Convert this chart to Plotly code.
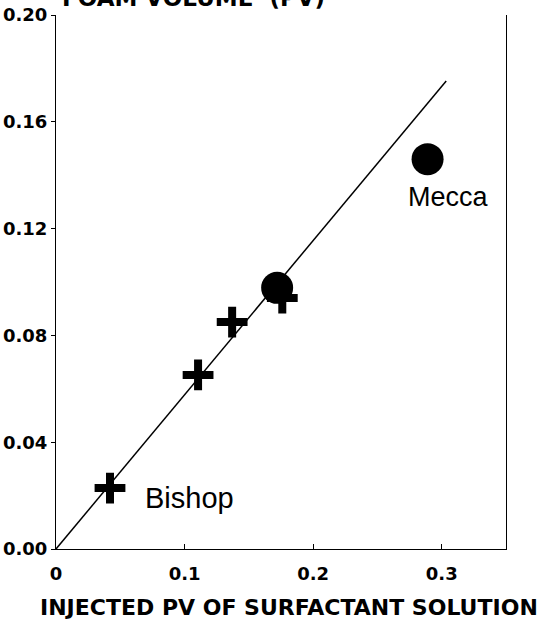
import plotly.graph_objects as go

# Data
bishop_x = [0.042, 0.1105, 0.137, 0.176]
bishop_y = [0.0228, 0.0652, 0.085, 0.094]
mecca_x = [0.172, 0.289]
mecca_y = [0.0978, 0.146]
fit_x = [0.0, 0.3035]
fit_y = [0.0, 0.1753]
x_ticks = [0, 0.1, 0.2, 0.3]
x_tick_labels = ["0", "0.1", "0.2", "0.3"]
y_ticks = [0.00, 0.04, 0.08, 0.12, 0.16, 0.20]
y_tick_labels = ["0.00", "0.04", "0.08", "0.12", "0.16", "0.20"]

LAB = "Liberation Sans, Arial"
BOLD = "DejaVu Sans, Arial"

fig = go.Figure()
fig.add_trace(go.Scatter(x=fit_x, y=fit_y, mode="lines",
                         line=dict(color="black", width=1.5), showlegend=False))
fig.add_trace(go.Scatter(x=mecca_x, y=mecca_y, mode="markers",
                         marker=dict(symbol="circle", size=32, color="black"),
                         showlegend=False))
fig.add_trace(go.Scatter(x=bishop_x, y=bishop_y, mode="markers",
                         marker=dict(symbol="cross-thin", size=22,
                                     line=dict(color="black", width=8)),
                         showlegend=False))

fig.add_annotation(x=bishop_x[0], y=bishop_y[0], text="Bishop", showarrow=False,
                   xanchor="left", yanchor="middle", xshift=33, yshift=-10,
                   font=dict(family=LAB, size=29, color="black"))
fig.add_annotation(x=mecca_x[1], y=mecca_y[1], text="Mecca", showarrow=False,
                   xanchor="center", yanchor="middle", xshift=21, yshift=-38,
                   font=dict(family=LAB, size=27, color="black"))
fig.add_annotation(xref="paper", yref="paper", x=0.0, y=1.0, text="<b>FOAM VOLUME  (PV)</b>",
                   showarrow=False, xanchor="left", yanchor="bottom", yshift=2, xshift=4,
                   font=dict(family=BOLD, size=23, color="black"))
fig.add_annotation(xref="paper", yref="paper", x=0.5, y=0.0,
                   text="<b>INJECTED PV OF SURFACTANT SOLUTION</b>",
                   showarrow=False, xanchor="center", yanchor="middle", yshift=-58, xshift=8,
                   font=dict(family=BOLD, size=22, color="black"))

fig.update_layout(
    width=543, height=625,
    margin=dict(l=56, r=37, t=15, b=76),
    plot_bgcolor="white", paper_bgcolor="white",
    font=dict(family=BOLD, color="black"),
    xaxis=dict(range=[0, 0.35], tickvals=x_ticks, ticktext=x_tick_labels,
               showgrid=False, zeroline=False, showline=True, linecolor="black",
               linewidth=1.2, ticks="inside", ticklen=5, tickcolor="black",
               ticklabelstandoff=8, automargin=False,
               tickfont=dict(size=18, family=BOLD, weight="bold")),
    yaxis=dict(range=[0, 0.20], tickvals=y_ticks, ticktext=y_tick_labels,
               showgrid=False, zeroline=False, showline=True, linecolor="black",
               linewidth=1.2, mirror=True, ticks="outside", ticklen=4, tickcolor="black",
               automargin=False,
               tickfont=dict(size=18, family=BOLD, weight="bold")),
)

fig.write_html("out.html", config={"displayModeBar": False},
               post_script="document.body.style.margin='0';document.body.style.overflow='hidden';")
